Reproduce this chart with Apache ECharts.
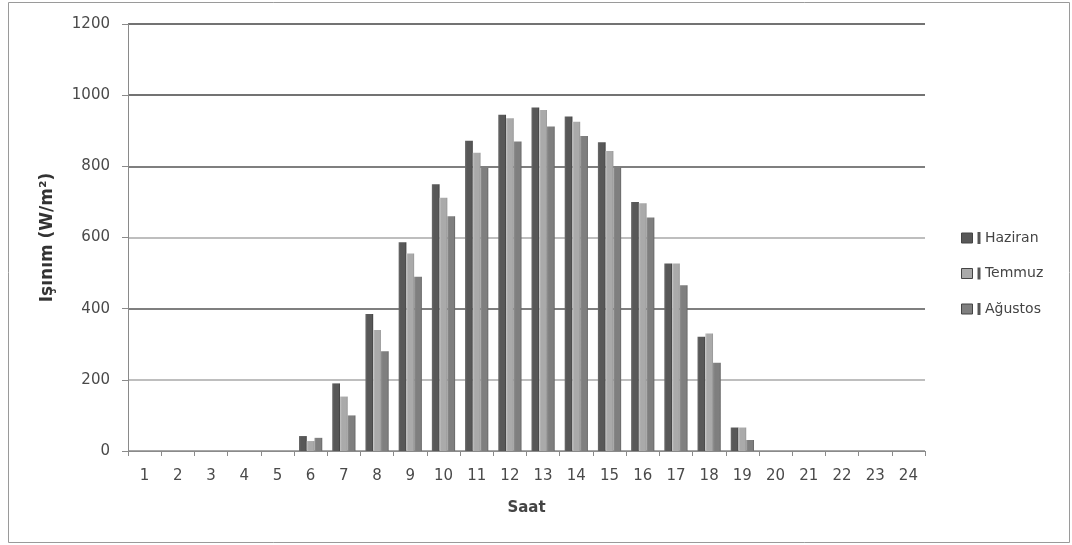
<!DOCTYPE html>
<html>
<head>
<meta charset="utf-8">
<script src="https://cdn.jsdelivr.net/npm/echarts@6/dist/echarts.min.js"></script>
<style>
  html, body { margin: 0; padding: 0; background: #fff; }
  #chart { width: 1072px; height: 545px; }
</style>
</head>
<body>
<div id="chart"></div>
<script>
// Hourly solar irradiance (W/m²) for the summer months
const hours = ['1','2','3','4','5','6','7','8','9','10','11','12','13','14','15','16','17','18','19','20','21','22','23','24'];
const haziran = [0,0,0,0,0,42,190,385,587,750,872,945,965,940,868,700,527,321,66,0,0,0,0,0];
const temmuz  = [0,0,0,0,0,28,153,340,555,712,838,935,958,925,843,696,527,330,66,0,0,0,0,0];
const agustos = [0,0,0,0,0,37,100,280,490,660,795,870,912,885,797,656,466,248,31,0,0,0,0,0];
const yTicks = [0,200,400,600,800,1000,1200];

const seriesNames = ['Haziran','Temmuz','Ağustos'];
const seriesData = [haziran, temmuz, agustos];
const colors = ['#585858','#aaaaaa','#7f7f7f'];

// slight left-to-right shading on each bar
function shade(c, light, dark) {
  return new echarts.graphic.LinearGradient(0, 0, 1, 0, [
    { offset: 0, color: light },
    { offset: 0.25, color: c },
    { offset: 0.8, color: c },
    { offset: 1, color: dark }
  ]);
}
const fills = [
  shade('#585858', '#6a6a6a', '#3e3e3e'),
  shade('#aaaaaa', '#c4c4c4', '#959595'),
  shade('#7f7f7f', '#8f8f8f', '#646464')
];

const chart = echarts.init(document.getElementById('chart'), null, { renderer: 'canvas' });

const font = '"DejaVu Sans", Verdana, sans-serif';

chart.setOption({
  animation: false,
  backgroundColor: '#ffffff',
  color: colors,
  textStyle: { fontFamily: font },
  graphic: [{
    type: 'rect',
    shape: { x: 8.5, y: 2.5, width: 1061, height: 540 },
    style: { fill: 'none', stroke: '#9a9a9a', lineWidth: 1 },
    silent: true
  }],
  grid: { left: 128, right: 147, top: 24, bottom: 94, containLabel: false },
  legend: {
    orient: 'vertical',
    left: 956,
    top: 225,
    itemWidth: 11,
    itemHeight: 10,
    itemGap: 19.5,
    icon: 'rect',
    data: seriesNames.map(function (n, i) { return { name: n, itemStyle: { color: colors[i], borderColor: '#444', borderWidth: 1 } }; }),
    formatter: function (name) { return '{bar|}' + ' ' + name; },
    textStyle: {
      fontFamily: font,
      fontSize: 14,
      lineHeight: 16,
      color: '#444',
      padding: [0, 0, 0, 0],
      rich: {
        bar: { width: 3, height: 12, backgroundColor: '#555' }
      }
    }
  },
  xAxis: {
    type: 'category',
    data: hours,
    name: 'Saat',
    nameLocation: 'middle',
    nameGap: 50,
    nameTextStyle: { fontFamily: font, fontWeight: 'bold', fontSize: 15, color: '#444' },
    axisLine: { lineStyle: { color: '#8a8a8a', width: 1 } },
    axisTick: { show: true, alignWithLabel: false, length: 5, lineStyle: { color: '#8a8a8a' } },
    axisLabel: { fontFamily: font, fontSize: 15, color: '#4a4a4a', margin: 18 },
    splitLine: { show: false }
  },
  yAxis: {
    type: 'value',
    min: 0,
    max: 1200,
    interval: 200,
    name: 'Işınım (W/m²)',
    nameLocation: 'middle',
    nameGap: 72,
    nameRotate: 90,
    nameTextStyle: { fontFamily: font, fontWeight: 'bold', fontSize: 17, color: '#333' },
    axisLine: { show: true, lineStyle: { color: '#8a8a8a', width: 1 } },
    axisTick: { show: true, inside: false, length: 6, lineStyle: { color: '#8a8a8a' } },
    axisLabel: {
      fontFamily: font, fontSize: 15, color: '#4a4a4a', margin: 18,
      formatter: function (v) { return yTicks.indexOf(v) >= 0 ? String(v) : ''; }
    },
    splitLine: {
      show: true,
      lineStyle: { color: ['#8a8a8a','#a8a8a8','#555','#a8a8a8','#555','#444','#444'], width: 1.5 }
    }
  },
  series: seriesNames.map(function (n, i) {
    return {
      name: n,
      type: 'bar',
      data: seriesData[i],
      barGap: '0%',
      barCategoryGap: '30%',
      itemStyle: { color: fills[i] }
    };
  })
});
</script>
</body>
</html>
